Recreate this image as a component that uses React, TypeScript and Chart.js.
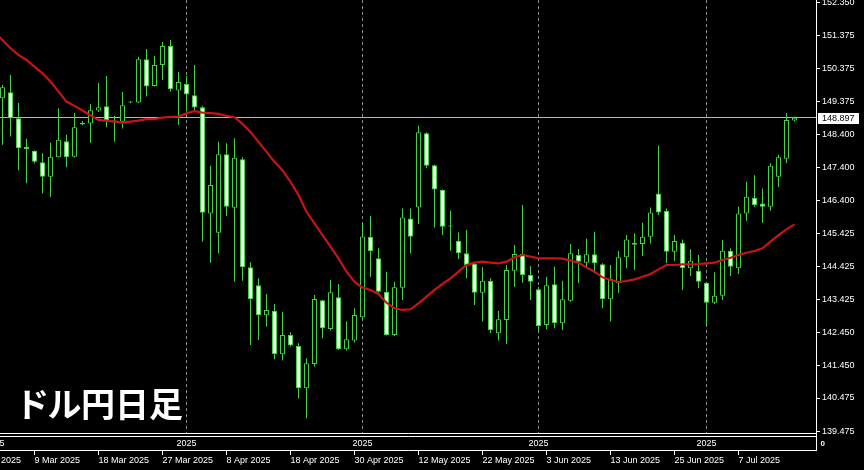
import React, { useEffect, useRef } from "react";
import { Chart, registerables } from "chart.js";

Chart.register(...registerables);

// ---- data (USD/JPY daily candles, bar index 0..99) ----
const OPEN = [
  149.48, 149.66, 148.88, 148.02, 147.9, 147.56, 147.12, 147.71, 148.19, 147.72,
  148.69, 148.72, 149.11, 149.24, 148.81, 148.77, 149.35, 149.35, 150.65, 149.85,
  150.48, 151.05, 149.71, 149.91, 149.57, 149.21, 146.02, 145.44, 147.8, 146.19,
  147.65, 144.4, 143.86, 142.96, 143.1, 141.79, 142.37, 142.04, 140.77, 141.5,
  143.41, 142.55, 143.5, 141.94, 142.2, 142.9, 145.32, 144.67, 143.67, 142.37,
  143.79, 145.87, 146.2, 148.43, 147.47, 146.72, 145.66, 145.2, 144.82, 144.5,
  143.64, 143.99, 142.42, 142.82, 144.3, 144.8, 144.17, 143.74, 142.67, 143.89,
  142.72, 143.4, 144.77, 144.54, 144.79, 144.49, 143.44, 143.92, 144.7, 145.14,
  145.1, 145.32, 146.62, 146.09, 144.87, 145.14, 144.37, 144.3, 143.94, 143.34,
  143.55, 144.9, 144.37, 146.02, 146.49, 146.32, 146.22, 147.12, 147.66, 148.81,
];
const HIGH = [
  149.88, 150.18, 149.34, 148.26, 147.91, 147.83, 148.14, 149.18, 148.38, 149.03,
  148.8, 149.31, 149.94, 150.15, 148.95, 149.67, 149.39, 150.73, 150.96, 150.75,
  151.17, 151.23, 150.27, 150.15, 150.48, 149.25, 147.45, 148.17, 148.13, 148.28,
  147.71, 144.55, 144.07, 143.6, 143.3, 143.07, 142.45, 142.12, 141.67, 143.57,
  143.42, 144.02, 143.9, 142.77, 143.17, 145.74, 145.94, 144.97, 144.27, 143.97,
  146.17, 146.17, 148.65, 148.46, 147.48, 146.74, 146.1, 145.45, 145.52, 144.54,
  144.4, 144.07, 143.09, 144.47, 145.07, 146.27, 144.44, 143.82, 144.12, 144.42,
  144.0, 145.1, 144.95, 145.27, 145.47, 144.52, 144.47, 144.89, 145.37, 145.42,
  145.74, 146.2, 148.05, 146.17, 145.37, 145.24, 144.94, 144.77, 143.95, 144.25,
  145.22, 144.97, 146.22, 146.97, 147.17, 146.77, 147.53, 147.78, 149.03, 148.93,
];
const LOW = [
  148.08, 148.33, 147.32, 146.93, 147.53, 146.62, 146.52, 147.7, 147.41, 147.7,
  148.67, 148.14, 149.07, 148.61, 148.17, 148.57, 149.33, 149.34, 149.53, 149.83,
  150.03, 149.68, 148.68, 149.08, 149.08, 145.17, 144.54, 144.82, 145.94, 143.97,
  144.0, 142.07, 142.22, 142.62, 141.64, 141.6, 142.02, 140.47, 139.87, 141.42,
  142.27, 142.5, 141.92, 141.9, 142.14, 142.84, 144.12, 143.6, 142.35, 142.34,
  143.42, 144.82, 145.7, 147.38, 145.6, 145.37, 144.9, 144.64, 144.07, 143.27,
  142.77, 142.42, 142.2, 142.1, 143.82, 143.94, 143.42, 142.5, 142.54, 142.57,
  142.52, 143.37, 143.92, 144.37, 144.22, 143.17, 142.77, 143.64, 144.37, 144.32,
  144.74, 145.12, 145.97, 144.52, 144.6, 143.72, 144.14, 143.77, 142.64, 143.3,
  143.42, 144.14, 144.2, 145.8, 146.22, 145.74, 146.1, 146.81, 147.53, 148.78,
];
const CLOSE = [
  149.81, 148.88, 147.98, 147.95, 147.57, 147.12, 147.72, 148.23, 147.71, 148.61,
  148.74, 149.12, 149.21, 148.83, 148.78, 149.27, 149.37, 150.65, 149.83, 150.48,
  151.05, 149.75, 149.97, 149.59, 149.2, 146.04, 146.87, 147.8, 146.22, 147.69,
  144.4, 143.44, 142.96, 143.12, 141.8, 142.37, 142.05, 140.77, 141.52, 143.45,
  142.57, 143.65, 141.94, 142.24, 142.97, 145.33, 144.88, 143.67, 142.37, 143.8,
  145.9, 145.32, 148.46, 147.45, 146.74, 145.62, 145.63, 144.82, 144.47, 143.64,
  144.0, 142.52, 142.84, 144.32, 144.8, 144.17, 143.97, 142.64, 143.86, 142.72,
  143.44, 144.82, 144.57, 144.79, 144.52, 143.44, 144.05, 144.7, 145.24, 145.08,
  145.32, 146.05, 146.05, 144.87, 145.19, 144.37, 144.6, 143.97, 143.34, 143.55,
  144.9, 144.42, 146.02, 146.52, 146.27, 146.22, 147.45, 147.71, 148.83, 148.897,
];
// moving average, first value belongs to bar index -1
const MA_START = -1;
const MA = [
  151.44,
  151.23, 150.98, 150.78, 150.63, 150.43, 150.23, 149.98, 149.68, 149.38, 149.25,
  149.11, 148.96, 148.83, 148.8, 148.78, 148.75, 148.78, 148.81, 148.85, 148.85,
  148.9, 148.92, 148.93, 149.03, 149.09, 149.05, 149.03, 149.01, 148.95, 148.91,
  148.71, 148.47, 148.17, 147.87, 147.57, 147.32, 146.97, 146.57, 146.07, 145.72,
  145.37, 145.02, 144.67, 144.27, 143.97, 143.79, 143.72, 143.6, 143.34, 143.17,
  143.12, 143.14, 143.32, 143.52, 143.72, 143.9, 144.07, 144.27, 144.47, 144.54,
  144.57, 144.54, 144.52, 144.57, 144.7, 144.77, 144.72, 144.67, 144.67, 144.67,
  144.66, 144.6, 144.54, 144.4, 144.27, 144.1, 144.02, 143.96, 143.99, 144.04,
  144.12, 144.2, 144.34, 144.47, 144.47, 144.49, 144.49, 144.5, 144.52, 144.54,
  144.62, 144.69, 144.77, 144.84, 144.89, 144.97, 145.17, 145.37, 145.54, 145.69,
];
const DATE_TICKS = [-4, 4, 12, 20, 28, 36, 44, 52, 60, 68, 76, 84, 92];
const DATE_LABELS = [
  "27 Feb 2025", "9 Mar 2025", "18 Mar 2025", "27 Mar 2025", "8 Apr 2025",
  "18 Apr 2025", "30 Apr 2025", "12 May 2025", "22 May 2025", "3 Jun 2025",
  "13 Jun 2025", "25 Jun 2025", "7 Jul 2025",
];
const YEAR_MARKS = [-1, 23, 45, 67, 88];
const YEAR_LABEL = "2025";
const PRICE_TICKS = [
  152.35, 151.375, 150.375, 149.375, 148.4, 147.4, 146.4, 145.425, 144.425,
  143.425, 142.45, 141.45, 140.475, 139.475,
];
const LAST_PRICE = 148.897;
const SUB_LABEL = "0";
const TITLE = "ドル円日足";

// ---- styles ----
const FONT = "'Liberation Sans', Arial, sans-serif";
const GREEN = "rgb(72,206,72)";
const BEAR_FILL = "rgb(236,255,236)";
const BULL_FILL = "#000000";
const RED = "rgb(200,20,20)";
const X_MIN = -0.3125;
const X_MAX = 101.6875;
const Y_MIN = 139.424;
const Y_MAX = 152.431;

export default function App() {
  const ref = useRef<HTMLCanvasElement>(null);

  useEffect(() => {
    document.body.style.margin = "0";
    document.body.style.background = "#000";
    const canvas = ref.current;
    if (!canvas) return;

    const idx = OPEN.map((_, i) => i);
    const wicks = idx.map((i) => ({ x: i, y: [LOW[i], HIGH[i]] }));
    const bodies = idx.map((i) => ({ x: i, y: [OPEN[i], CLOSE[i]] }));
    const bodyFill = idx.map((i) => (CLOSE[i] > OPEN[i] ? BULL_FILL : BEAR_FILL));
    const maPts = MA.map((v, j) => ({ x: j + MA_START, y: v }));

    const overlay = {
      id: "mt4overlay",
      beforeDatasetsDraw(chart: any) {
        const { ctx, chartArea } = chart;
        const xs = chart.scales.x;
        const ys = chart.scales.y;
        ctx.save();
        // period separators
        ctx.strokeStyle = "#8a8a8a";
        ctx.lineWidth = 1;
        ctx.setLineDash([3, 3]);
        YEAR_MARKS.forEach((k) => {
          const px = Math.round(xs.getPixelForValue(k) - 0.5) + 0.5;
          ctx.beginPath();
          ctx.moveTo(px, chartArea.top);
          ctx.lineTo(px, chartArea.bottom);
          ctx.stroke();
        });
        ctx.setLineDash([]);
        // bid line
        const py = Math.round(ys.getPixelForValue(LAST_PRICE) - 0.5) + 0.5;
        ctx.strokeStyle = "#b4b4b4";
        ctx.beginPath();
        ctx.moveTo(chartArea.left, py);
        ctx.lineTo(chartArea.right, py);
        ctx.stroke();
        ctx.restore();
      },
      afterDraw(chart: any) {
        const { ctx, chartArea } = chart;
        const xs = chart.scales.x;
        const ys = chart.scales.y;
        const R = chartArea.right + 0.5;
        ctx.save();
        ctx.strokeStyle = "#ffffff";
        ctx.lineWidth = 1;
        ctx.beginPath();
        // main window bottom border
        ctx.moveTo(0, 433.5);
        ctx.lineTo(R, 433.5);
        // sub window box
        ctx.moveTo(0, 436.5);
        ctx.lineTo(R, 436.5);
        ctx.moveTo(0, 450.5);
        ctx.lineTo(R, 450.5);
        ctx.moveTo(R, 433);
        ctx.lineTo(R, 451);
        // date tick marks
        DATE_TICKS.forEach((k) => {
          const px = Math.round(xs.getPixelForValue(k) - 0.5) + 0.5;
          ctx.moveTo(px, 451);
          ctx.lineTo(px, 455);
        });
        ctx.stroke();
        // sub window labels
        ctx.fillStyle = "#ffffff";
        ctx.font = `9px ${FONT}`;
        ctx.textAlign = "center";
        ctx.textBaseline = "middle";
        YEAR_MARKS.forEach((k) => {
          ctx.fillText(YEAR_LABEL, xs.getPixelForValue(k), 443.5);
        });
        ctx.textAlign = "left";
        ctx.font = `bold 8px ${FONT}`;
        ctx.fillText(SUB_LABEL, R + 4, 443.5);
        // last price box
        const py = ys.getPixelForValue(LAST_PRICE);
        ctx.fillStyle = "#ffffff";
        ctx.fillRect(R + 1.5, Math.round(py) - 5, 41, 11);
        ctx.fillStyle = "#000000";
        ctx.font = `9px ${FONT}`;
        ctx.fillText(LAST_PRICE.toFixed(3), R + 5.5, Math.round(py) + 0.5);
        ctx.restore();
      },
    };

    const chart = new Chart(canvas, {
      type: "bar",
      data: {
        datasets: [
          {
            type: "line",
            data: maPts,
            borderColor: RED,
            borderWidth: 2.2,
            pointRadius: 0,
            tension: 0,
            order: 0,
          } as any,
          {
            type: "bar",
            data: bodies,
            backgroundColor: bodyFill,
            borderColor: GREEN,
            borderWidth: 1,
            borderSkipped: false,
            grouped: false,
            maxBarThickness: 5,
            barThickness: 5,
            minBarLength: 1,
            inflateAmount: 0,
            order: 1,
          } as any,
          {
            type: "bar",
            data: wicks,
            backgroundColor: GREEN,
            borderWidth: 0,
            grouped: false,
            maxBarThickness: 1,
            barThickness: 1,
            inflateAmount: 0,
            order: 2,
          } as any,
        ],
      },
      options: {
        responsive: false,
        animation: false,
        events: [],
        layout: { padding: 0 },
        plugins: {
          legend: { display: false },
          tooltip: { enabled: false },
          title: { display: false },
        },
        scales: {
          x: {
            type: "linear",
            position: "bottom",
            min: X_MIN,
            max: X_MAX,
            offset: false,
            grid: { display: false, drawTicks: false, tickLength: 0 },
            border: { display: false },
            afterBuildTicks: (s: any) => {
              s.ticks = DATE_TICKS.map((v) => ({ value: v }));
            },
            afterFit: (s: any) => {
              s.height = 37;
              s.paddingLeft = 0;
              s.paddingRight = 0;
            },
            ticks: {
              autoSkip: false,
              maxRotation: 0,
              minRotation: 0,
              align: "start",
              padding: 22,
              color: "#ffffff",
              font: { family: FONT, size: 9 },
              callback: (v: any) => {
                const i = DATE_TICKS.indexOf(Number(v));
                return i >= 0 ? DATE_LABELS[i] : "";
              },
            },
          } as any,
          y: {
            type: "linear",
            position: "right",
            min: Y_MIN,
            max: Y_MAX,
            grid: {
              display: true,
              drawOnChartArea: false,
              drawTicks: true,
              tickLength: 4,
              color: "#ffffff",
            },
            border: { display: true, color: "#ffffff", width: 1 },
            afterBuildTicks: (s: any) => {
              s.ticks = PRICE_TICKS.map((v) => ({ value: v }));
            },
            afterFit: (s: any) => {
              s.width = 48;
              s.paddingTop = 0;
              s.paddingBottom = 0;
            },
            ticks: {
              autoSkip: false,
              padding: 2,
              color: "#ffffff",
              font: { family: FONT, size: 9 },
              callback: (v: any) => Number(v).toFixed(3),
            },
          } as any,
        },
      },
      plugins: [overlay],
    });

    return () => chart.destroy();
  }, []);

  return (
    <div
      style={{
        position: "relative",
        width: 864,
        height: 470,
        background: "#000",
        overflow: "hidden",
      }}
    >
      <canvas ref={ref} width={864} height={470} style={{ display: "block" }} />
      <div
        style={{
          position: "absolute",
          left: 18,
          top: 386,
          color: "#ffffff",
          fontFamily: "'Noto Sans CJK JP', sans-serif",
          fontWeight: 700,
          fontSize: 34,
          lineHeight: "34px",
          fontFeatureSettings: '"palt"',
          whiteSpace: "nowrap",
        }}
      >
        {TITLE}
      </div>
    </div>
  );
}
